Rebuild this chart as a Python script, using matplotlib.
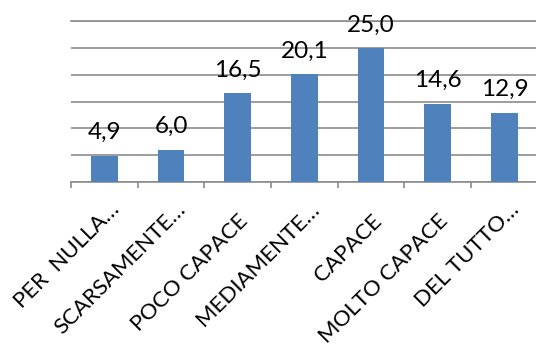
import matplotlib
matplotlib.use("Agg")
import matplotlib.pyplot as plt
import matplotlib.transforms as mtransforms

# valori (%)
categories = ["PER  NULLA…", "SCARSAMENTE…", "POCO CAPACE", "MEDIAMENTE…",
              "CAPACE", "MOLTO CAPACE", "DEL TUTTO…"]
values = [4.9, 6.0, 16.5, 20.1, 25.0, 14.6, 12.9]
y_ticks = [0, 5, 10, 15, 20, 25, 30]

BAR_COLOR = "#4F81BD"
GRID_COLOR = "#8C8C8C"

plt.rcParams["font.family"] = ["Lato", "DejaVu Sans"]

fig = plt.figure(figsize=(5.36, 3.5), dpi=100)
ax = fig.add_axes([71 / 536, 1 - 181.7 / 350, 466.7 / 536, 160.4 / 350])

x = list(range(len(categories)))
bars = ax.bar(x, values, width=0.4, color=BAR_COLOR, zorder=3)

labels = [f"{v:.1f}".replace(".", ",") for v in values]
ax.bar_label(bars, labels=labels, padding=9, fontsize=17.5, color="black")

ax.set_xlim(-0.5, len(categories) - 0.5)
ax.set_ylim(y_ticks[0], y_ticks[-1])
ax.set_yticks(y_ticks)
ax.tick_params(axis="y", left=False, labelleft=False)
ax.yaxis.grid(True, color=GRID_COLOR, linewidth=1.2, zorder=0)

# tick di confine tra categorie
ax.set_xticks([i - 0.5 for i in range(len(categories) + 1)], minor=True)
ax.tick_params(axis="x", which="minor", direction="out", length=4.5,
               width=1.2, color=GRID_COLOR)
ax.set_xticks(x)
ax.set_xticklabels(categories, rotation=45, ha="right", va="top",
                   rotation_mode="anchor", fontsize=16)
ax.tick_params(axis="x", which="major", length=0, pad=21)

# le etichette troncate in Excel finiscono con "…" sulla linea di base
shift = mtransforms.ScaledTranslation(0.16, 0, fig.dpi_scale_trans)
for lab in ax.get_xticklabels():
    if lab.get_text().endswith("…"):
        lab.set_va("baseline")
        lab.set_transform(lab.get_transform() + shift)

for side in ("left", "right"):
    ax.spines[side].set_visible(False)
for side in ("top", "bottom"):
    ax.spines[side].set_color(GRID_COLOR)
    ax.spines[side].set_linewidth(1.2)

fig.savefig("out.png", dpi=100)
